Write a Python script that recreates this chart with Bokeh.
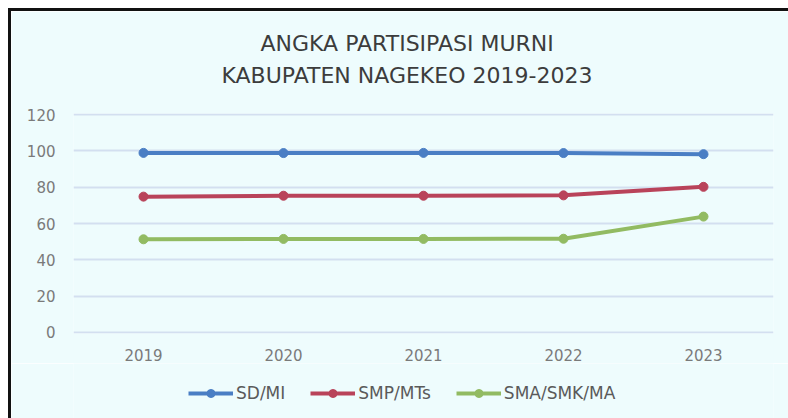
from bokeh.plotting import figure
from bokeh.layouts import column
from bokeh.models import Legend, LegendItem, Title, Range1d
from bokeh.embed import file_html
from bokeh.resources import INLINE

years = ["2019", "2020", "2021", "2022", "2023"]
sd_mi = [98.9, 98.8, 98.9, 98.8, 98.2]
smp_mts = [74.8, 75.3, 75.3, 75.5, 80.2]
sma_smk_ma = [51.3, 51.5, 51.5, 51.6, 63.8]
y_ticks = [0, 20, 40, 60, 80, 100, 120]

series = [
    ("SD/MI", sd_mi, "#4a7ec4"),
    ("SMP/MTs", smp_mts, "#b9435a"),
    ("SMA/SMK/MA", sma_smk_ma, "#92bb62"),
]

FONT = "DejaVu Sans"
BG = "#eefcfd"
p = figure(x_range=years, y_range=Range1d(-0.6, 120.6), width=777, height=352,
           output_backend="svg", toolbar_location=None,
           min_border_left=62, min_border_right=15, min_border_top=102, min_border_bottom=30,
           background_fill_color=BG, border_fill_color=BG, outline_line_color=None)

p.add_layout(Title(text="KABUPATEN NAGEKEO 2019-2023", align="left", offset=148,
                   text_font=FONT, text_font_size="22px", text_font_style="normal",
                   text_color="#3c3c3c", standoff=52), "above")
p.add_layout(Title(text="ANGKA PARTISIPASI MURNI", align="left", offset=187,
                   text_font=FONT, text_font_size="22px", text_font_style="normal",
                   text_color="#3c3c3c", standoff=-43), "above")

for name, vals, col in series:
    p.line(years, vals, line_color=col, line_width=4)
    p.scatter(years, vals, marker="circle", size=9, fill_color=col, line_color=col)

p.yaxis.ticker = y_ticks
p.xgrid.grid_line_color = None
p.ygrid.grid_line_color = "#d3dff0"
p.ygrid.grid_line_width = 2
for ax in (p.xaxis[0], p.yaxis[0]):
    ax.axis_line_color = None
    ax.major_tick_line_color = None
    ax.minor_tick_line_color = None
    ax.major_tick_out = 0
    ax.major_tick_in = 0
    ax.minor_tick_out = 0
    ax.major_label_text_font = FONT
    ax.major_label_text_font_size = "15px"
    ax.major_label_text_color = "#7a7a7a"
p.yaxis.major_label_standoff = 18
p.xaxis.major_label_standoff = 15
p.x_range.range_padding = 0

# legend strip below the chart (same series, drawn outside its visible range)
lg = figure(x_range=years, y_range=Range1d(1000, 1001), width=777, height=55,
            output_backend="svg", toolbar_location=None,
            min_border=0, x_axis_location=None, y_axis_location=None,
            background_fill_color=BG, border_fill_color=BG, outline_line_color=None)
lg.grid.grid_line_color = None
items = []
for name, vals, col in series:
    r1 = lg.line(years, vals, line_color=col, line_width=4)
    r2 = lg.scatter(years, vals, marker="circle", size=9, fill_color=col, line_color=col)
    items.append(LegendItem(label=name, renderers=[r1, r2]))
legend = Legend(items=items, orientation="horizontal", location=(115, 15),
                background_fill_alpha=0, border_line_color=None,
                label_text_font=FONT, label_text_font_size="17px", label_text_color="#5a5a5a",
                glyph_width=45, spacing=25, margin=0, padding=0, label_standoff=3)
lg.add_layout(legend, "center")

layout = column(p, lg, spacing=0,
                styles={"margin-left": "8px", "margin-top": "8px",
                        "border-left": "3px solid #111", "border-top": "3px solid #111"})

open("out.html", "w").write(file_html(layout, INLINE))
